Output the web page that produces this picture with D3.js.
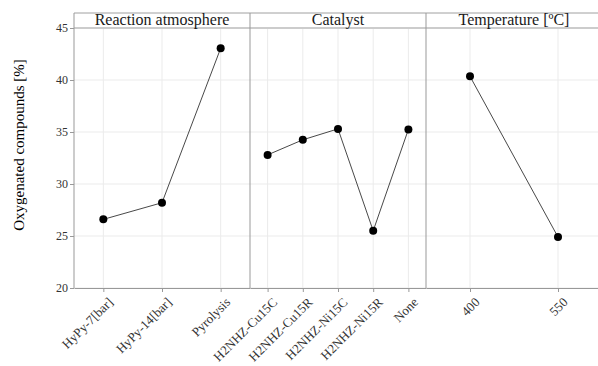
<!DOCTYPE html>
<html>
<head>
<meta charset="utf-8">
<script src="https://cdn.jsdelivr.net/npm/d3@7"></script>
<style>
  body { margin: 0; background: #fff; }
  svg { display: block; }
</style>
</head>
<body>
<div id="chart"></div>
<script>
// facet titles
var facets = ["Reaction atmosphere", "Catalyst", "Temperature [ºC]"];

// categories per facet
var atmosphereCats = ["HyPy-7[bar]", "HyPy-14[bar]", "Pyrolysis"];
var catalystCats = ["H2NHZ-Cu15C", "H2NHZ-Cu15R", "H2NHZ-Ni15C", "H2NHZ-Ni15R", "None"];
var temperatureCats = ["400", "550"];

// oxygenated compounds [%]
var atmosphereVals = [26.6, 28.2, 43.05];
var catalystVals = [32.8, 34.25, 35.3, 25.5, 35.25];
var temperatureVals = [40.35, 24.9];

var yTicks = [20, 25, 30, 35, 40, 45];

var panels = [
  {title: facets[0], cats: atmosphereCats, vals: atmosphereVals},
  {title: facets[1], cats: catalystCats, vals: catalystVals},
  {title: facets[2], cats: temperatureCats, vals: temperatureVals}
];

var width = 598, height = 366;
var marginLeft = 74, panelW = 176;
var stripTop = 13, plotTop = 28, plotBottom = 288;
var font = "'Liberation Serif', 'Times New Roman', serif";

var svg = d3.select("#chart")
  .append("svg")
  .attr("width", width)
  .attr("height", height);

var y = d3.scaleLinear()
  .domain([20, 45])
  .range([plotBottom, plotTop]);

panels.forEach(function(p, i) {
  var x0 = marginLeft + i * panelW;
  var x = d3.scalePoint()
    .domain(p.cats)
    .range([x0, x0 + panelW])
    .padding(0.5);

  var g = svg.append("g");

  // grid
  g.selectAll(".hgrid")
    .data(yTicks)
    .enter()
    .append("line")
    .attr("x1", x0)
    .attr("x2", x0 + panelW)
    .attr("y1", function(d) { return y(d); })
    .attr("y2", function(d) { return y(d); })
    .attr("stroke", "#ebebeb")
    .attr("stroke-width", 1);

  g.selectAll(".vgrid")
    .data(p.cats)
    .enter()
    .append("line")
    .attr("x1", function(d) { return x(d); })
    .attr("x2", function(d) { return x(d); })
    .attr("y1", plotTop)
    .attr("y2", plotBottom)
    .attr("stroke", "#ebebeb")
    .attr("stroke-width", 1);

  // x axis
  var xAxis = g.append("g")
    .attr("transform", "translate(0," + plotBottom + ")")
    .call(d3.axisBottom(x).tickSize(4).tickSizeOuter(0));
  xAxis.select(".domain").attr("stroke", "#999");
  xAxis.selectAll(".tick line").attr("stroke", "#999");
  xAxis.selectAll("text")
    .attr("font-family", font)
    .attr("font-size", "13px")
    .attr("fill", "#333")
    .attr("text-anchor", "end")
    .attr("dy", null)
    .attr("y", 0)
    .attr("transform", "translate(10,15)rotate(-45)");

  // strip
  g.append("line")
    .attr("x1", x0).attr("x2", x0 + panelW)
    .attr("y1", plotTop).attr("y2", plotTop)
    .attr("stroke", "#cccccc")
    .attr("stroke-width", 2);
  g.append("line")
    .attr("x1", x0).attr("x2", x0 + panelW)
    .attr("y1", stripTop).attr("y2", stripTop)
    .attr("stroke", "#a0a0a0")
    .attr("stroke-width", 1);
  g.append("text")
    .attr("x", x0 + panelW / 2)
    .attr("y", plotTop - 3)
    .attr("text-anchor", "middle")
    .style("font-family", font)
    .style("font-size", "16px")
    .style("fill", "#1a1a1a")
    .text(p.title);

  // panel separator
  g.append("line")
    .attr("x1", x0).attr("x2", x0)
    .attr("y1", stripTop).attr("y2", plotBottom)
    .attr("stroke", "#999")
    .attr("stroke-width", 1);

  // line + points
  var data = p.cats.map(function(c, j) { return {cat: c, value: p.vals[j]}; });
  var line = d3.line()
    .x(function(d) { return x(d.cat); })
    .y(function(d) { return y(d.value); });

  g.append("path")
    .datum(data)
    .attr("d", line)
    .attr("fill", "none")
    .attr("stroke", "#333")
    .attr("stroke-width", 0.9);

  g.selectAll("circle")
    .data(data)
    .enter()
    .append("circle")
    .attr("cx", function(d) { return x(d.cat); })
    .attr("cy", function(d) { return y(d.value); })
    .attr("r", 4)
    .attr("fill", "#000");
});

// y axis
var yAxis = svg.append("g")
  .attr("transform", "translate(" + marginLeft + ",0)")
  .call(d3.axisLeft(y).tickValues(yTicks).tickSize(4).tickSizeOuter(0));
yAxis.select(".domain").remove();
yAxis.selectAll(".tick line").attr("stroke", "#999");
yAxis.selectAll("text")
  .attr("font-family", font)
  .attr("font-size", "12px")
  .attr("fill", "#333")
  .attr("x", -6);

svg.append("text")
  .attr("transform", "translate(24,145)rotate(-90)")
  .attr("text-anchor", "middle")
  .style("font-family", font)
  .style("font-size", "15px")
  .style("fill", "#000")
  .text("Oxygenated compounds [%]");
</script>
</body>
</html>
